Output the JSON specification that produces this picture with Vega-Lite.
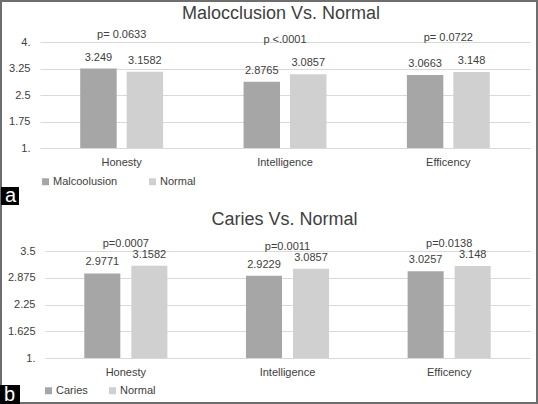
{
  "$schema": "https://vega.github.io/schema/vega-lite/v6.json",
  "width": 538,
  "height": 404,
  "autosize": "none",
  "padding": 0,
  "background": "white",
  "config": {
    "view": {"stroke": "#6e6e6e", "strokeWidth": 4},
    "font": "Liberation Sans",
    "axis": {"labelFont": "Liberation Sans", "labelFontSize": 11, "labelColor": "#404040", "title": null, "ticks": false, "domain": false},
    "legend": {"labelFont": "Liberation Sans"},
    "text": {"font": "Liberation Sans", "fontSize": 11, "color": "#404040"}
  },
  "datasets": {
    "top": [
      {"category": "Honesty", "group": "Malcoolusion", "value": 3.249, "p": "p= 0.0633"},
      {"category": "Honesty", "group": "Normal", "value": 3.1582, "p": "p= 0.0633"},
      {"category": "Intelligence", "group": "Malcoolusion", "value": 2.8765, "p": "p <.0001"},
      {"category": "Intelligence", "group": "Normal", "value": 3.0857, "p": "p <.0001"},
      {"category": "Efficency", "group": "Malcoolusion", "value": 3.0663, "p": "p= 0.0722"},
      {"category": "Efficency", "group": "Normal", "value": 3.148, "p": "p= 0.0722"}
    ],
    "bottom": [
      {"category": "Honesty", "group": "Caries", "value": 2.9771, "p": "p=0.0007"},
      {"category": "Honesty", "group": "Normal", "value": 3.1582, "p": "p=0.0007"},
      {"category": "Intelligence", "group": "Caries", "value": 2.9229, "p": "p=0.0011"},
      {"category": "Intelligence", "group": "Normal", "value": 3.0857, "p": "p=0.0011"},
      {"category": "Efficency", "group": "Caries", "value": 3.0257, "p": "p=0.0138"},
      {"category": "Efficency", "group": "Normal", "value": 3.148, "p": "p=0.0138"}
    ]
  },
  "layer": [
    {
      "layer": [
        {
          "data": {"name": "top"},
          "mark": {"type": "bar"},
          "encoding": {
            "x": {"field": "category", "type": "nominal", "sort": null,
              "scale": {"domain": ["Honesty", "Intelligence", "Efficency"], "range": [40, 530], "paddingInner": 0, "paddingOuter": 0},
              "axis": {"orient": "bottom", "offset": -256, "labelPadding": 8, "labelAngle": 0, "grid": false}},
            "xOffset": {"field": "group", "type": "nominal", "sort": null,
              "scale": {"domain": ["Malcoolusion", "Normal"], "paddingInner": 0.215, "paddingOuter": 0.866}},
            "y": {"field": "value", "type": "quantitative",
              "scale": {"domain": [1, 4], "range": [148, 42], "zero": false, "nice": false},
              "axis": {"orient": "left", "offset": -40, "values": [1, 1.75, 2.5, 3.25, 4], "labelPadding": 10, "grid": true, "gridColor": "#d9d9d9",
                "labelExpr": "datum.value % 1 == 0 ? datum.value + '.' : '' + datum.value"}},
            "y2": {"datum": 1},
            "color": {"field": "group", "type": "nominal", "sort": null,
              "scale": {"domain": ["Malcoolusion", "Normal"], "range": ["#a6a6a6", "#d0d0d0"]},
              "legend": {"orient": "none", "legendX": 40, "legendY": 176, "direction": "horizontal", "title": null, "padding": 0,
                "symbolType": "square", "symbolSize": 49, "symbolStrokeWidth": 0, "labelFontSize": 11, "labelColor": "#404040",
                "labelOffset": 2, "columnPadding": 29}}
          }
        },
        {
          "data": {"name": "top"},
          "mark": {"type": "text", "baseline": "middle", "dy": -11},
          "encoding": {
            "x": {"field": "category", "type": "nominal", "sort": null},
            "xOffset": {"field": "group", "type": "nominal", "sort": null},
            "y": {"field": "value", "type": "quantitative"},
            "text": {"field": "value", "type": "nominal"}
          }
        },
        {
          "data": {"name": "top"},
          "mark": {"type": "text", "baseline": "middle", "dy": -34},
          "encoding": {
            "x": {"field": "category", "type": "nominal", "sort": null},
            "y": {"aggregate": "max", "field": "value", "type": "quantitative"},
            "text": {"field": "p", "type": "nominal"}
          }
        },
        {
          "data": {"values": [{"t": "Malocclusion Vs. Normal"}]},
          "mark": {"type": "text", "baseline": "middle", "fontSize": 18, "dx": -4},
          "encoding": {
            "x": {"datum": "Intelligence", "type": "nominal"},
            "y": {"datum": 4.79, "type": "quantitative"},
            "text": {"field": "t", "type": "nominal"}
          }
        },
        {
          "data": {"values": [{"panel": "a"}]},
          "mark": {"type": "point", "filled": true, "opacity": 0, "color": "black"},
          "encoding": {
            "shape": {"field": "panel", "type": "nominal",
              "scale": {"range": ["square"]},
              "legend": {"orient": "none", "legendX": 0, "legendY": 186, "title": null, "padding": 0,
                "symbolSize": 324, "symbolFillColor": "black", "symbolStrokeColor": "black", "symbolStrokeWidth": 0, "symbolOpacity": 1,
                "labelColor": "white", "labelFontSize": 20, "labelOffset": -15}}
          }
        }
      ]
    },
    {
      "layer": [
        {
          "data": {"name": "bottom"},
          "mark": {"type": "bar"},
          "encoding": {
            "x": {"field": "category", "type": "nominal", "sort": null,
              "scale": {"domain": ["Honesty", "Intelligence", "Efficency"], "range": [45, 530], "paddingInner": 0, "paddingOuter": 0},
              "axis": {"orient": "bottom", "offset": -46, "labelPadding": 8, "labelAngle": 0, "grid": false}},
            "xOffset": {"field": "group", "type": "nominal", "sort": null,
              "scale": {"domain": ["Caries", "Normal"], "paddingInner": 0.234, "paddingOuter": 0.835}},
            "y": {"field": "value", "type": "quantitative",
              "scale": {"domain": [1, 3.5], "range": [358, 251], "zero": false, "nice": false},
              "axis": {"orient": "left", "offset": -45, "values": [1, 1.625, 2.25, 2.875, 3.5], "labelPadding": 10, "grid": true, "gridColor": "#d9d9d9",
                "labelExpr": "datum.value % 1 == 0 ? datum.value + '.' : '' + datum.value"}},
            "y2": {"datum": 1},
            "color": {"field": "group", "type": "nominal", "sort": null,
              "scale": {"domain": ["Caries", "Normal"], "range": ["#a6a6a6", "#d0d0d0"]},
              "legend": {"orient": "none", "legendX": 43, "legendY": 385, "direction": "horizontal", "title": null, "padding": 0,
                "symbolType": "square", "symbolSize": 49, "symbolStrokeWidth": 0, "labelFontSize": 11, "labelColor": "#404040",
                "labelOffset": 2, "columnPadding": 19}}
          }
        },
        {
          "data": {"name": "bottom"},
          "mark": {"type": "text", "baseline": "middle", "dy": -11},
          "encoding": {
            "x": {"field": "category", "type": "nominal", "sort": null},
            "xOffset": {"field": "group", "type": "nominal", "sort": null},
            "y": {"field": "value", "type": "quantitative"},
            "text": {"field": "value", "type": "nominal"}
          }
        },
        {
          "data": {"name": "bottom"},
          "mark": {"type": "text", "baseline": "middle", "dy": -22},
          "encoding": {
            "x": {"field": "category", "type": "nominal", "sort": null},
            "y": {"aggregate": "max", "field": "value", "type": "quantitative"},
            "text": {"field": "p", "type": "nominal"}
          }
        },
        {
          "data": {"values": [{"t": "Caries Vs. Normal"}]},
          "mark": {"type": "text", "baseline": "middle", "fontSize": 18, "dx": -3},
          "encoding": {
            "x": {"datum": "Intelligence", "type": "nominal"},
            "y": {"datum": 4.224, "type": "quantitative"},
            "text": {"field": "t", "type": "nominal"}
          }
        },
        {
          "data": {"values": [{"panel": "b"}]},
          "mark": {"type": "point", "filled": true, "opacity": 0, "color": "black"},
          "encoding": {
            "shape": {"field": "panel", "type": "nominal",
              "scale": {"range": ["square"]},
              "legend": {"orient": "none", "legendX": 0, "legendY": 385, "title": null, "padding": 0,
                "symbolSize": 400, "symbolFillColor": "black", "symbolStrokeColor": "black", "symbolStrokeWidth": 0, "symbolOpacity": 1,
                "labelColor": "white", "labelFontSize": 20, "labelOffset": -16}}
          }
        }
      ]
    }
  ],
  "resolve": {"scale": {"x": "independent", "y": "independent", "xOffset": "independent", "color": "independent", "shape": "independent"}}
}
